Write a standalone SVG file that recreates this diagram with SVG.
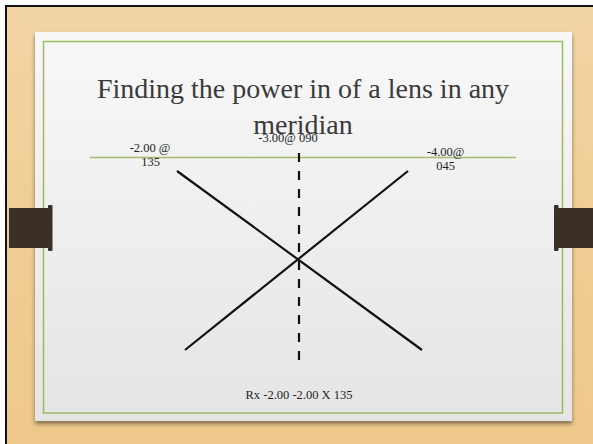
<svg xmlns="http://www.w3.org/2000/svg" width="593" height="444" viewBox="0 0 593 444">
  <defs>
    <linearGradient id="wood" x1="0" y1="0" x2="0" y2="1">
      <stop offset="0" stop-color="#f3d5a4"/>
      <stop offset="0.5" stop-color="#f0cd95"/>
      <stop offset="1" stop-color="#eec88b"/>
    </linearGradient>
    <linearGradient id="panel" x1="0" y1="0" x2="0" y2="1">
      <stop offset="0" stop-color="#f8f8f8"/>
      <stop offset="1" stop-color="#e5e5e5"/>
    </linearGradient>
    <filter id="shadow" x="-5%" y="-5%" width="110%" height="115%">
      <feGaussianBlur in="SourceAlpha" stdDeviation="2"/>
      <feOffset dx="0" dy="3" result="b"/>
      <feComponentTransfer><feFuncA type="linear" slope="0.45"/></feComponentTransfer>
      <feMerge><feMergeNode/><feMergeNode in="SourceGraphic"/></feMerge>
    </filter>
    <style>
      .title { font-family: "Liberation Serif", "Times New Roman", serif; font-size: 28px; fill: #3a3a3a; }
      .lbl { font-family: "Liberation Serif", "Times New Roman", serif; font-size: 12.5px; fill: #1e1e1e; }
      .ln { stroke: #111; stroke-width: 2.2; fill: none; }
      .bar { fill: #3b2f26; }
    </style>
  </defs>

  <g id="background">
    <rect x="0" y="0" width="593" height="444" fill="#ffffff"/>
    <rect x="5" y="5" width="588" height="439" fill="#111"/>
    <rect x="7" y="7" width="586" height="437" fill="url(#wood)"/>
  </g>

  <g id="panel">
    <rect x="35" y="32" width="537" height="389" fill="url(#panel)" filter="url(#shadow)"/>
    <rect x="43.5" y="41.5" width="519" height="371.5" fill="none" stroke="#9fbb5e" stroke-width="1.5"/>
  </g>

  <g id="left-bar">
    <rect class="bar" x="9" y="208" width="41" height="40"/>
    <rect class="bar" x="48" y="205" width="4.5" height="46" rx="1"/>
  </g>
  <g id="right-bar">
    <rect class="bar" x="556" y="208" width="37" height="40"/>
    <rect class="bar" x="554" y="205" width="4.5" height="46" rx="1"/>
  </g>

  <g id="title">
    <text class="title" x="303" y="98" text-anchor="middle">Finding the power in of a lens in any</text>
    <text class="title" x="303" y="134" text-anchor="middle">meridian</text>
  </g>

  <g id="connectors">
    <line x1="90" y1="157.5" x2="516" y2="157.5" stroke="#a6bd6c" stroke-width="1.5"/>
    <line class="ln" x1="177" y1="171" x2="422" y2="350"/>
    <line class="ln" x1="408" y1="171" x2="185" y2="350"/>
    <line class="ln" x1="299" y1="153" x2="299" y2="367" stroke-dasharray="9 9" stroke-width="2.4"/>
  </g>

  <g id="label-135">
    <text class="lbl" x="150" y="152" text-anchor="middle">-2.00 @</text>
    <text class="lbl" x="150.5" y="166" text-anchor="middle">135</text>
  </g>
  <g id="label-090">
    <text class="lbl" x="288" y="142" text-anchor="middle">-3.00@ 090</text>
  </g>
  <g id="label-045">
    <text class="lbl" x="445.5" y="156" text-anchor="middle">-4.00@</text>
    <text class="lbl" x="445.5" y="170" text-anchor="middle">045</text>
  </g>
  <g id="rx">
    <text class="lbl" x="299" y="399" text-anchor="middle" fill="#333">Rx -2.00 -2.00 X 135</text>
  </g>
</svg>
